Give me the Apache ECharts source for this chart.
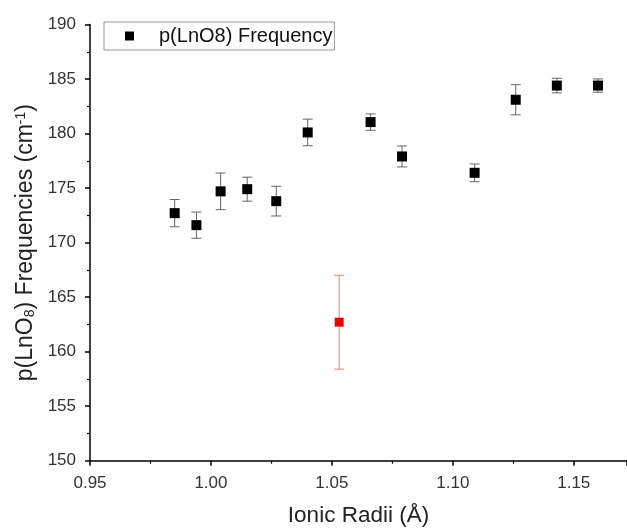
<!DOCTYPE html>
<html>
<head>
<meta charset="utf-8">
<script src="https://cdn.jsdelivr.net/npm/echarts@6/dist/echarts.min.js"></script>
<style>
html, body { margin: 0; padding: 0; background: #fff; }
#chart { width: 627px; height: 529px; }
</style>
</head>
<body>
<div id="chart"></div>
<script>
// ionic radii (Å) and rocking mode frequencies (cm-1)
var radii = [0.985, 0.994, 1.004, 1.015, 1.027, 1.040, 1.066, 1.079, 1.109, 1.126, 1.143, 1.160];
var freq = [172.7, 171.6, 174.7, 174.9, 173.8, 180.1, 181.05, 177.9, 176.4, 183.1, 184.4, 184.4];
var freqErr = [1.25, 1.2, 1.68, 1.1, 1.36, 1.22, 0.75, 0.96, 0.81, 1.38, 0.67, 0.61];
// outlier point
var outRadii = [1.053];
var outFreq = [162.7];
var outErr = [4.3];

var font = 'Liberation Sans, Arial, sans-serif';

function pairs(xs, ys, es) {
    var out = [];
    for (var i = 0; i < xs.length; i++) {
        out.push(es ? [xs[i], ys[i] - es[i], ys[i] + es[i]] : [xs[i], ys[i]]);
    }
    return out;
}

function errorBars(color) {
    return function (params, api) {
        var lo = api.coord([api.value(0), api.value(1)]);
        var hi = api.coord([api.value(0), api.value(2)]);
        var w = 5;
        var style = { stroke: color, lineWidth: 1 };
        return {
            type: 'group',
            children: [
                { type: 'line', shape: { x1: lo[0], y1: lo[1], x2: hi[0], y2: hi[1] }, style: style },
                { type: 'line', shape: { x1: lo[0] - w, y1: lo[1], x2: lo[0] + w, y2: lo[1] }, style: style },
                { type: 'line', shape: { x1: hi[0] - w, y1: hi[1], x2: hi[0] + w, y2: hi[1] }, style: style }
            ]
        };
    };
}

var chart = echarts.init(document.getElementById('chart'));
var option = {
    animation: false,
    textStyle: { fontFamily: font },
    grid: { left: 90, right: 0, top: 24.5, bottom: 68.3, outerBoundsMode: 'none', containLabel: false },
    legend: {
        data: ['p(LnO8) Frequency'],
        left: 104,
        top: 22,
        icon: 'rect',
        itemWidth: 9,
        itemHeight: 9,
        borderColor: '#999',
        borderWidth: 1,
        borderRadius: 0,
        padding: [4, 2, 4, 21],
        formatter: function (name) { return '{g|}' + name; },
        textStyle: {
            fontSize: 20, color: '#111', fontFamily: font,
            rich: { g: { width: 20 } }
        }
    },
    xAxis: {
        type: 'value',
        min: 0.95,
        max: 1.172,
        interval: 0.05,
        name: 'Ionic Radii (Å)',
        nameLocation: 'middle',
        nameGap: 44,
        nameTextStyle: { fontSize: 22.5, color: '#222', fontFamily: font },
        splitLine: { show: false },
        axisLine: { lineStyle: { color: '#000', width: 1.5 } },
        axisTick: { inside: false, length: 5, lineStyle: { color: '#000', width: 1.5 } },
        minorTick: { show: true, splitNumber: 2, length: 3, lineStyle: { color: '#000', width: 1.2 } },
        axisLabel: {
            fontSize: 17, color: '#333', margin: 14,
            formatter: function (v) { return v.toFixed(2); },
            showMaxLabel: false
        }
    },
    yAxis: {
        type: 'value',
        min: 150,
        max: 190,
        interval: 5,
        name: 'p(LnO{sub|8}) Frequencies (cm{sup|-1})',
        nameLocation: 'middle',
        nameGap: 46,
        nameTextStyle: {
            fontSize: 23, color: '#222', fontFamily: font,
            rich: {
                sub: { fontSize: 14, color: '#222', verticalAlign: 'bottom', padding: [9, 0, 0, 0] },
                sup: { fontSize: 14, color: '#222', verticalAlign: 'top', padding: [0, 0, 9, 0] }
            }
        },
        splitLine: { show: false },
        axisLine: { show: true, lineStyle: { color: '#000', width: 1.5 } },
        axisTick: { show: true, inside: false, length: 5, lineStyle: { color: '#000', width: 1.5 } },
        minorTick: { show: true, splitNumber: 2, length: 3, lineStyle: { color: '#000', width: 1.2 } },
        axisLabel: { fontSize: 17, color: '#333', margin: 14 }
    },
    series: [
        {
            type: 'custom',
            name: 'err',
            renderItem: errorBars('#666'),
            data: pairs(radii, freq, freqErr),
            encode: { x: 0, y: [1, 2] },
            z: 1,
            silent: true
        },
        {
            type: 'custom',
            name: 'errOut',
            renderItem: errorBars('#f77'),
            data: pairs(outRadii, outFreq, outErr),
            encode: { x: 0, y: [1, 2] },
            z: 1,
            silent: true
        },
        {
            type: 'scatter',
            name: 'p(LnO8) Frequency',
            symbol: 'rect',
            symbolSize: 10,
            itemStyle: { color: '#000', opacity: 1 },
            data: pairs(radii, freq),
            z: 3
        },
        {
            type: 'scatter',
            name: 'outlier',
            symbol: 'rect',
            symbolSize: 9,
            itemStyle: { color: '#e00', opacity: 1 },
            data: pairs(outRadii, outFreq),
            z: 3
        }
    ]
};
chart.setOption(option);
</script>
</body>
</html>
